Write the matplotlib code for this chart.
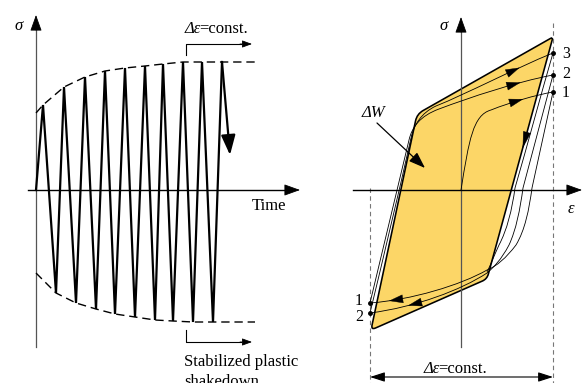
import numpy as np
import matplotlib.pyplot as plt
from matplotlib.path import Path
from matplotlib.patches import PathPatch

plt.rcParams['font.family'] = ['Liberation Serif', 'DejaVu Serif']

W, H = 582, 383
YELLOW = '#FCD667'
FS = 12

# ---- left panel: stress vs. time (units ~ px, origin at axis crossing)
peak_t = [7, 28, 49, 69, 89, 109, 127, 147, 166, 186]
peak_s = [85, 103, 113, 119, 122, 124, 126, 128, 128, 128]
trough_t = [20, 40, 60, 79, 99, 119, 137, 157, 177]
trough_s = [-103, -113, -119, -124, -127, -130, -131, -132, -132]
last_arrow = (194, 35)
env_up_t = [0] + peak_t + [219]
env_up_s = [77] + peak_s + [128]
env_lo_t = [0] + trough_t + [219]
env_lo_s = [-83] + trough_s + [-132]

# ---- right panel: stress vs. strain
loop_e = [92, -44, -90, 26]
loop_s = [153, 76, -140, -89]
loop_r = [3, 7, 5, 5]
eps_min, eps_max = -91, 92
up_pts_s = [98, 115, 137]      # points 1, 2, 3 (upper right)
low_pts_s = [-113, -123]       # points 1, 2 (lower left)

# bezier control points of the first cycles
load1 = [(0, 0), (8, 50), (12, 75), (30, 80), (50, 88), (75, 95), (92, 98)]
unload1 = [(92, 98), (85, 66), (78, 34), (71, 2), (68, -20), (64, -40), (55, -55),
           (45, -68), (36, -76), (26, -80), (0, -95), (-50, -110), (-91, -113)]
unload2 = [(92, 115), (82, 77), (72, 40), (62, 2), (59, -20), (55, -40), (48, -55),
           (40, -70), (33, -77), (26, -83), (0, -100), (-45, -117), (-91, -123)]
unload3 = [(92, 137), (79, 92), (67, 47), (54, 2), (51, -20), (46, -40), (38, -55),
           (33, -66), (30, -74), (26, -82)]
reload1 = [(-91, -113), (-78, -59), (-65, -4), (-52, 50), (-49, 63), (-41, 74), (-22, 81),
           (10, 93), (55, 108), (92, 115)]
reload2 = [(-91, -123), (-77, -65), (-63, -6), (-50, 52), (-47, 65), (-40, 77), (-25, 84),
           (5, 96), (55, 122), (92, 137)]


def head(ax, tip, tail, length, width, lw=0.6):
    ax.annotate('', xy=tip, xytext=tail,
                arrowprops=dict(arrowstyle=f'-|>,head_length={length},head_width={width}',
                                mutation_scale=1, color='k', lw=lw,
                                shrinkA=0, shrinkB=0))


def bezier(ax, pts, **kw):
    codes = [Path.MOVETO] + [Path.CURVE4] * (len(pts) - 1)
    ax.add_patch(PathPatch(Path(pts, codes), fill=False, **kw))


def bez_at(pts, seg, t):
    p = np.array(pts[3 * seg:3 * seg + 4], float)
    b = ((1 - t) ** 3) * p[0] + 3 * (1 - t) ** 2 * t * p[1] + 3 * (1 - t) * t ** 2 * p[2] + t ** 3 * p[3]
    d = 3 * (1 - t) ** 2 * (p[1] - p[0]) + 6 * (1 - t) * t * (p[2] - p[1]) + 3 * t ** 2 * (p[3] - p[2])
    return b, d / np.hypot(*d)


def curve_head(ax, pts, seg, t):
    tip, u = bez_at(pts, seg, t)
    head(ax, tuple(tip), tuple(tip - 4 * u), 9.5, 2.9, lw=0.3)


def rounded_loop(xs, ys, radii):
    p = np.column_stack([xs, ys]).astype(float)
    n = len(p)
    verts, codes = [], []
    for i in range(n):
        prv, cur, nxt = p[i - 1], p[i], p[(i + 1) % n]
        a = cur + radii[i] * (prv - cur) / np.hypot(*(prv - cur))
        b = cur + radii[i] * (nxt - cur) / np.hypot(*(nxt - cur))
        verts += [a, cur, b]
        codes += [Path.MOVETO if i == 0 else Path.LINETO, Path.CURVE3, Path.CURVE3]
    verts.append(verts[0])
    codes.append(Path.CLOSEPOLY)
    return Path(verts, codes)


def const_label(ax, x, y):
    # italic "Δε" followed by upright "=const."
    t1 = ax.text(x, y, 'Δε', fontsize=FS, style='italic', ha='left', va='baseline')
    ax.annotate('=const.', xy=(1, 0), xycoords=t1, xytext=(-1.5, 0),
                textcoords='offset points', fontsize=FS, ha='left', va='bottom')


fig = plt.figure(figsize=(W / 100, H / 100), dpi=100)
axL = fig.add_axes([0, 0, 1, 1])
axL.set_xlim(-36, W - 36)
axL.set_ylim(190 - H, 190)
axR = fig.add_axes([0, 0, 1, 1])
axR.set_xlim(-461, W - 461)
axR.set_ylim(190 - H, 190)
for ax in (axL, axR):
    ax.axis('off')
    ax.set_facecolor('none')

# ================= left panel
axL.plot([0, 0], [-157, 165], color='#555555', lw=0.9)
head(axL, (0, 175), (0, 160), 10, 3.6)
axL.plot([-8, 255], [0, 0], color='k', lw=1.0)
head(axL, (264, 0), (250, 0), 10, 3.6)

axL.plot(env_up_t, env_up_s, color='k', lw=1.0, ls=(0, (6, 3.5)))
axL.plot(env_lo_t, env_lo_s, color='k', lw=1.0, ls=(0, (6, 3.5)))

zz_t, zz_s = [0], [0]
for i in range(len(peak_t)):
    zz_t.append(peak_t[i]); zz_s.append(peak_s[i])
    if i < len(trough_t):
        zz_t.append(trough_t[i]); zz_s.append(trough_s[i])
axL.plot(zz_t, zz_s, color='k', lw=1.6, solid_joinstyle='bevel')
axL.annotate('', xy=last_arrow, xytext=(peak_t[-1], peak_s[-1]),
             arrowprops=dict(arrowstyle='-|>,head_length=12,head_width=4.3',
                             mutation_scale=1, color='k', lw=1.6,
                             shrinkA=0, shrinkB=0))

axL.text(-17, 164, 'σ', fontsize=FS, style='italic', ha='center', va='center')
axL.text(216, -16, 'Time', fontsize=FS, ha='left', va='center')

axL.plot([150, 150, 205], [135, 146, 146], color='k', lw=0.8)
head(axL, (216, 146), (204, 146), 6, 2.2)
const_label(axL, 149, 157)

axL.plot([150, 150, 205], [-140, -152, -152], color='k', lw=0.8)
head(axL, (216, -152), (204, -152), 6, 2.2)
axL.text(148, -176, 'Stabilized plastic', fontsize=FS, ha='left', va='baseline')
axL.text(148, -196, 'shakedown', fontsize=FS, ha='left', va='baseline')

# ================= right panel
axR.plot([eps_min, eps_min], [2, 190 - H], color='#777777', lw=0.8, ls=(0, (4, 3)))
axR.plot([eps_max, eps_max], [167, 190 - H], color='#777777', lw=0.8, ls=(0, (4, 3)))

axR.add_patch(PathPatch(rounded_loop(loop_e, loop_s, loop_r), facecolor=YELLOW,
                        edgecolor='k', lw=1.15, zorder=1))

axR.plot([0, 0], [-157, 163], color='#555555', lw=0.9, zorder=2)
head(axR, (0, 173), (0, 158), 10, 3.6)
axR.plot([-108, 112], [0, 0], color='k', lw=1.0, zorder=2)
head(axR, (121, 0), (107, 0), 10, 3.6)

for c in (load1, unload1, unload2, unload3, reload1, reload2):
    bezier(axR, c, edgecolor='k', lw=0.6, zorder=3)

curve_head(axR, load1, 1, 0.5)
curve_head(axR, reload1, 2, 0.72)
curve_head(axR, reload2, 2, 0.72)
curve_head(axR, unload1, 3, 0.85)
curve_head(axR, unload2, 3, 0.72)

# arrow on the stabilized loop (right edge, pointing down)
br = np.array([loop_e[3], loop_s[3]], float)
tr = np.array([loop_e[0], loop_s[0]], float)
head(axR, tuple(br + 0.54 * (tr - br)), tuple(br + 0.6 * (tr - br)), 11, 2.6, lw=0.4)

axR.plot([eps_max] * len(up_pts_s), up_pts_s, 'o', color='k', ms=2.5, zorder=4)
axR.plot([eps_min] * len(low_pts_s), low_pts_s, 'o', color='k', ms=2.5, zorder=4)
for lab, s in zip(['1', '2', '3'], [97, 116, 135.5]):
    axR.text(101, s, lab, fontsize=11.5, ha='left', va='center')
for lab, s in zip(['1', '2'], [-111, -127]):
    axR.text(-98, s, lab, fontsize=11.5, ha='right', va='center')

axR.text(-88, 77, 'ΔW', fontsize=FS, style='italic', ha='center', va='center')
axR.annotate('', xy=(-36, 22), xytext=(-84, 67),
             arrowprops=dict(arrowstyle='-|>,head_length=10,head_width=3.6',
                             mutation_scale=1, color='k', lw=0.9,
                             shrinkA=0, shrinkB=0), zorder=5)

axR.text(-17, 164.5, 'σ', fontsize=FS, style='italic', ha='center', va='center')
axR.text(109.5, -19, 'ε', fontsize=FS, style='italic', ha='center', va='center')

axR.annotate('', xy=(eps_min, -187), xytext=(eps_max, -187),
             arrowprops=dict(arrowstyle='<|-|>,head_length=9,head_width=2.9',
                             mutation_scale=1, color='k', lw=0.8,
                             shrinkA=0, shrinkB=0))
const_label(axR, -37, -183)

fig.savefig('out.png', dpi=100)
